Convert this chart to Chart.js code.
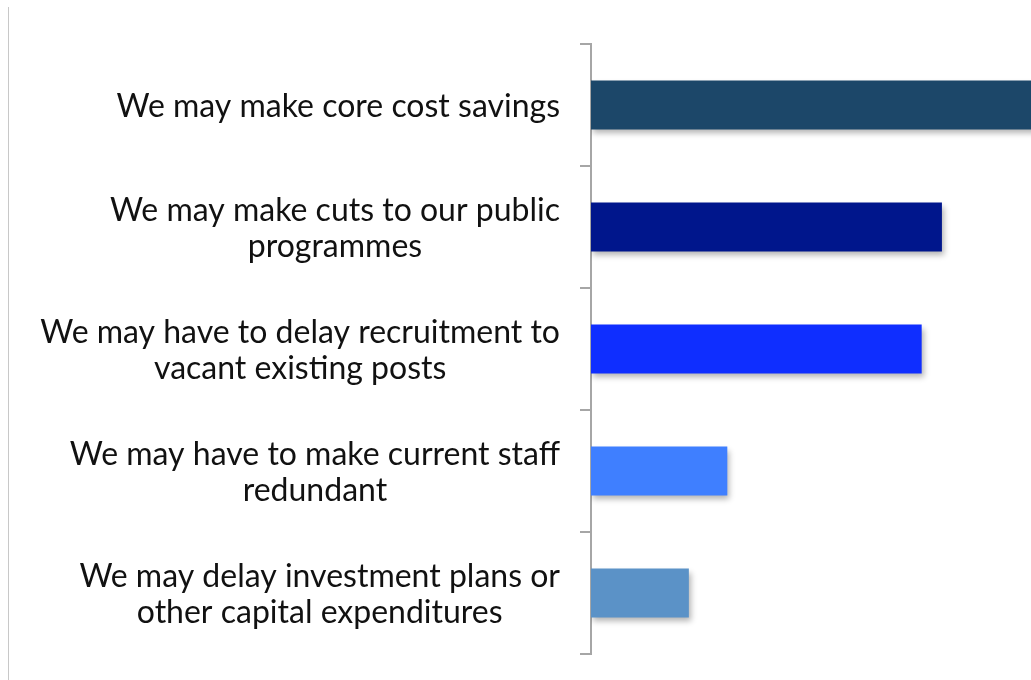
<!DOCTYPE html>
<html>
<head>
<meta charset="utf-8">
<script src="https://cdn.jsdelivr.net/npm/chart.js@4"></script>
<style>
  html, body { margin: 0; padding: 0; background: #fff; overflow: hidden; }
  #wrap { position: relative; width: 1031px; height: 680px; }
  #edge { position: absolute; left: 8px; top: 7px; bottom: 0; width: 1px; background: #c8c8c8; }
</style>
</head>
<body>
<div id="wrap">
  <div id="edge"></div>
  <canvas id="chart" width="1031" height="680"></canvas>
</div>
<script>
const categories = [
  ['We may make core cost savings'],
  ['We may make cuts to our public', 'programmes'],
  ['We may have to delay recruitment to', 'vacant existing posts'],
  ['We may have to make current staff', 'redundant'],
  ['We may delay investment plans or', 'other capital expenditures'],
];
const values = [70, 52, 49, 20.2, 14.5];
const barColors = ['#1c4769', '#00168c', '#0f2eff', '#3f7fff', '#5b92c7'];

const labelFont = '32px Lato';
const labelLineHeight = 36;

// soft drop shadow under the bars
const barShadow = {
  id: 'barShadow',
  beforeDatasetsDraw(chart) {
    const { ctx } = chart;
    ctx.save();
    ctx.shadowColor = 'rgba(0, 0, 0, 0.3)';
    ctx.shadowBlur = 6;
    ctx.shadowOffsetX = 2;
    ctx.shadowOffsetY = 4;
  },
  afterDatasetsDraw(chart) {
    chart.ctx.restore();
  }
};

// category labels: each block right-aligned to the axis, its lines centred on each other
const blockLabels = {
  id: 'blockLabels',
  afterDraw(chart) {
    const { ctx, scales: { y } } = chart;
    const right = y.right - 31;
    ctx.save();
    ctx.font = labelFont;
    ctx.fillStyle = '#111';
    ctx.textAlign = 'center';
    ctx.textBaseline = 'middle';
    chart.data.labels.forEach((lines, i) => {
      const widest = Math.max(...lines.map(l => ctx.measureText(l).width));
      const cx = right - widest / 2;
      const cy = y.getPixelForValue(i) + 2;
      const top = cy - (lines.length - 1) * labelLineHeight / 2;
      lines.forEach((l, j) => ctx.fillText(l, cx, top + j * labelLineHeight));
    });
    ctx.restore();
  }
};

new Chart(document.getElementById('chart'), {
  type: 'bar',
  data: {
    labels: categories,
    datasets: [{
      data: values,
      backgroundColor: barColors,
      borderWidth: 0,
      barPercentage: 0.4,
      categoryPercentage: 1,
    }],
  },
  options: {
    indexAxis: 'y',
    responsive: false,
    animation: false,
    layout: {
      padding: { top: 44, bottom: 26, left: 0, right: 0 }
    },
    plugins: {
      legend: { display: false },
      tooltip: { enabled: false }
    },
    scales: {
      x: {
        display: false,
        min: 0,
        max: 65.2
      },
      y: {
        offset: true,
        border: { color: '#a6a6a6', width: 2 },
        grid: {
          drawOnChartArea: false,
          color: '#a6a6a6',
          lineWidth: 2,
          tickLength: 11
        },
        ticks: {
          display: false
        },
        afterFit: (scale) => {
          scale.width = 591;
        }
      }
    }
  },
  plugins: [barShadow, blockLabels]
});
</script>
</body>
</html>
